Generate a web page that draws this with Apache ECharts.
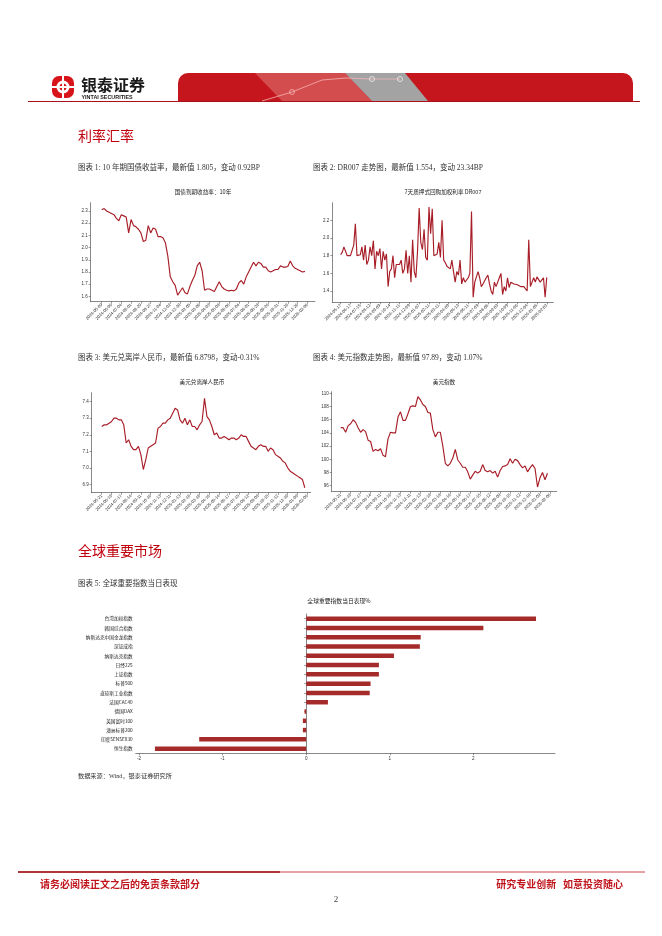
<!DOCTYPE html>
<html>
<head>
<meta charset="utf-8">
<script src="https://cdn.jsdelivr.net/npm/echarts@6/dist/echarts.min.js"></script>
<style>
html,body{margin:0;padding:0;background:#fff;}
#page{width:662px;height:936px;}
</style>
</head>
<body>
<div id="page"></div>
<script>
// ---------- Data ----------
// Chart 1: 10Y government bond yield
const labels1 = ["2024-05-09","2024-06-06","2024-07-04","2024-08-01","2024-08-29","2024-09-27","2024-11-04","2024-12-02","2024-12-30","2025-02-05","2025-03-06","2025-04-03","2025-05-08","2025-06-06","2025-07-04","2025-08-01","2025-08-29","2025-09-26","2025-10-31","2025-11-28","2025-12-26","2026-02-06"];
const yTicks1 = [1.6,1.7,1.8,1.9,2.0,2.1,2.2,2.3];
const yield10y = [2.31,2.32,2.30,2.29,2.28,2.27,2.24,2.22,2.27,2.26,
  2.25,2.12,2.23,2.18,2.17,2.15,2.12,2.05,2.06,2.18,
  2.12,2.16,2.15,2.09,2.09,2.08,2.04,1.93,1.76,1.72,
  1.69,1.61,1.64,1.67,1.63,1.62,1.68,1.73,1.77,1.85,
  1.88,1.81,1.65,1.66,1.66,1.65,1.64,1.68,1.72,1.68,
  1.66,1.65,1.645,1.65,1.645,1.66,1.71,1.73,1.70,1.76,
  1.80,1.84,1.88,1.85,1.88,1.87,1.84,1.84,1.81,1.80,
  1.81,1.82,1.82,1.85,1.84,1.84,1.845,1.89,1.85,1.83,
  1.82,1.81,1.80,1.805];

// Chart 2: DR007
const labels2 = ["2024-05-17","2024-06-17","2024-07-15","2024-08-12","2024-09-09","2024-10-14","2024-11-11","2024-12-09","2025-01-07","2025-02-11","2025-03-11","2025-04-09","2025-05-13","2025-06-11","2025-07-09","2025-08-06","2025-09-03","2025-10-09","2025-11-06","2025-12-04","2026-01-05","2026-02-03"];
const yTicks2 = [1.4,1.6,1.8,2.0,2.2];
const dr007 = [1.81,1.84,1.90,1.92,1.80,1.78,1.80,1.86,1.92,2.16,
  1.80,1.80,1.81,1.90,1.75,1.92,1.70,1.75,1.90,1.80,
  1.97,1.65,1.85,1.80,1.88,1.65,1.85,1.75,1.82,1.45,
  1.62,1.65,1.80,1.55,1.70,1.72,1.70,1.75,1.60,1.65,
  1.86,1.60,1.80,1.50,1.98,1.62,1.55,1.85,2.34,1.95,
  1.87,2.10,1.78,1.75,2.35,2.05,2.33,1.80,1.78,1.82,
  1.95,1.78,2.20,1.75,1.72,1.68,1.70,1.65,1.75,1.62,
  1.50,1.62,1.58,1.75,1.48,1.55,1.50,1.52,1.55,1.60,
  2.30,1.33,1.50,1.48,1.62,1.55,1.45,1.48,1.50,1.55,
  1.58,1.48,1.40,1.36,1.50,1.45,1.46,1.55,1.60,1.36,
  1.45,1.40,1.55,1.44,1.50,1.52,1.48,1.46,1.47,1.46,
  1.45,1.45,1.45,1.44,1.40,1.98,1.45,1.46,1.55,1.50,
  1.56,1.58,1.50,1.48,1.55,1.33,1.554];

// Chart 3: USD/CNH
const labels3 = ["2024-05-21","2024-06-19","2024-07-17","2024-08-14","2024-09-11","2024-10-16","2024-11-13","2024-12-11","2025-01-13","2025-02-18","2025-03-18","2025-04-16","2025-05-14","2025-06-17","2025-07-15","2025-08-12","2025-09-09","2025-10-15","2025-11-12","2025-12-10","2026-01-09","2026-02-06"];
const yTicks3 = [6.9,7.0,7.1,7.2,7.3,7.4];
const usdcnh = [7.25,7.26,7.26,7.27,7.28,7.30,7.30,7.29,7.29,7.26,
  7.15,7.17,7.13,7.11,7.11,7.13,7.08,6.99,7.05,7.12,
  7.13,7.14,7.15,7.24,7.25,7.27,7.27,7.29,7.30,7.33,
  7.36,7.35,7.29,7.27,7.30,7.26,7.29,7.25,7.25,7.23,
  7.26,7.28,7.42,7.31,7.29,7.25,7.20,7.21,7.18,7.18,
  7.19,7.18,7.17,7.18,7.18,7.17,7.18,7.20,7.19,7.19,
  7.16,7.13,7.12,7.11,7.13,7.14,7.13,7.13,7.10,7.12,
  7.11,7.08,7.07,7.06,7.04,7.03,7.00,6.98,6.97,6.96,
  6.95,6.94,6.93,6.8798];

// Chart 4: US dollar index
const labels4 = ["2024-05-21","2024-06-19","2024-07-17","2024-08-14","2024-09-11","2024-10-16","2024-11-13","2024-12-11","2025-01-13","2025-02-18","2025-03-18","2025-04-16","2025-05-14","2025-06-17","2025-07-15","2025-08-12","2025-09-09","2025-10-15","2025-11-12","2025-12-10","2026-01-09","2026-02-06"];
const yTicks4 = [96,98,100,102,104,106,108,110];
const usdidx = [104.8,104.8,104.1,105.1,105.4,106.0,105.6,104.8,104.1,104.5,
  104.2,102.9,102.7,101.2,101.5,101.3,101.6,100.6,100.4,103.1,
  104.1,104.0,104.0,106.4,107.2,105.9,105.9,106.9,108.0,108.1,
  108.0,109.5,109.0,108.3,108.0,107.1,107.0,104.5,103.4,104.1,
  104.1,102.0,99.4,99.0,99.4,100.2,101.5,99.9,99.4,98.8,
  98.8,98.1,97.0,97.6,98.2,97.9,98.2,99.2,98.3,98.1,
  98.3,97.9,98.2,97.3,98.3,98.9,99.0,99.2,100.1,99.4,
  100.0,99.8,99.2,98.7,99.0,98.1,98.7,99.2,98.6,95.8,
  97.2,98.0,96.9,97.89];

// Chart 5: global indices daily change %
const indexNames = ["台湾加权指数","韩国综合指数","纳斯达克中国金龙指数","深证成指","纳斯达克指数","日经225","上证指数","标普500","道琼斯工业指数","法国CAC40","德国DAX","英国富时100","澳洲标普200","印度SENSEX30","恒生指数"];
const indexChange = [2.75,2.12,1.37,1.36,1.05,0.87,0.87,0.77,0.76,0.26,-0.02,-0.04,-0.04,-1.28,-1.81];
const xTicks5 = [-2,-1,0,1,2];

// ---------- Styles / helpers ----------
const AX = '#555';
const LINE_RED = '#a81e28';
const BAR_RED = '#a52a2a';
const SANS = "'Liberation Sans','Noto Sans CJK SC',sans-serif";
const CJK = "'Noto Sans CJK SC',sans-serif";
const SERIF = "'Liberation Serif','Noto Sans CJK SC',serif";

function xAxisCfg(gridIndex, labels, step, min, max) {
  const ticks = labels.map((_, k) => k * step);
  return {
    type: 'value', gridIndex, min, max,
    axisLine: {show: true, onZero: false, lineStyle: {color: AX, width: 0.7}},
    axisTick: {show: true, length: 2, customValues: ticks, lineStyle: {color: AX, width: 0.6}},
    axisLabel: {customValues: ticks, rotate: 45, fontSize: 4.2, color: '#333', margin: 2.5, fontFamily: SANS,
      formatter: v => { const k = Math.round(v / step); return labels[k] || ''; }},
    splitLine: {show: false}
  };
}
function yAxisCfg(gridIndex, ticks, min, max, dec) {
  return {
    type: 'value', gridIndex, min, max,
    axisLine: {show: true, onZero: false, lineStyle: {color: AX, width: 0.7}},
    axisTick: {show: true, length: 2, customValues: ticks, lineStyle: {color: AX, width: 0.6}},
    axisLabel: {customValues: ticks, fontSize: 4.5, color: '#333', margin: 3, fontFamily: SANS,
      formatter: v => v.toFixed(dec)},
    splitLine: {show: false}
  };
}
function lineSeries(idx, values) {
  return {
    type: 'line', xAxisIndex: idx, yAxisIndex: idx,
    data: values.map((v, i) => [i, v]),
    showSymbol: false, symbol: 'none',
    lineStyle: {color: LINE_RED, width: 1.15},
    animation: false, silent: true
  };
}
function txt(x, y, text, size, opts) {
  opts = opts || {};
  return {
    type: 'text', x, y, silent: true,
    style: {
      text, fontSize: size, fontFamily: opts.family || CJK,
      fontWeight: opts.weight || 'normal', fill: opts.color || '#222',
      align: opts.align || 'left', verticalAlign: 'middle',
      textAlign: opts.align || 'left', textVerticalAlign: 'middle'
    }
  };
}

const chart = echarts.init(document.getElementById('page'), null, {renderer: 'canvas', width: 662, height: 936});

const grids = [
  {left: 90.7, top: 202.7, width: 224.3, height: 99},
  {left: 332.3, top: 202.7, width: 221, height: 99.6},
  {left: 91.7, top: 392.7, width: 219, height: 100},
  {left: 331.7, top: 391.7, width: 225, height: 100},
  {left: 135.7, top: 614, width: 419.3, height: 139.3}
].map(g => Object.assign({containLabel: false, outerBoundsMode: 'none', show: false}, g));

const option = {
  animation: false,
  textStyle: {fontFamily: SANS},
  grid: grids,
  xAxis: [
    xAxisCfg(0, labels1, 4, -4.5, 87.1),
    xAxisCfg(1, labels2, 6, -5.1, 130),
    xAxisCfg(2, labels3, 4, -4.1, 85.4),
    xAxisCfg(3, labels4, 4, -3.6, 86.7),
    {
      type: 'value', gridIndex: 4, min: -2.04, max: 2.977,
      axisLine: {show: true, onZero: false, lineStyle: {color: AX, width: 0.7}},
      axisTick: {show: true, length: 2, customValues: xTicks5, lineStyle: {color: AX, width: 0.6}},
      axisLabel: {customValues: xTicks5, fontSize: 4.6, color: '#333', margin: 3, fontFamily: SANS,
        formatter: v => String(Math.round(v))},
      splitLine: {show: false}
    }
  ],
  yAxis: [
    yAxisCfg(0, yTicks1, 1.556, 2.368, 1),
    yAxisCfg(1, yTicks2, 1.272, 2.40, 1),
    yAxisCfg(2, yTicks3, 6.85, 7.454, 1),
    yAxisCfg(3, yTicks4, 95.09, 110.25, 0),
    {
      type: 'category', gridIndex: 4, inverse: true, data: indexNames,
      axisLine: {show: true, lineStyle: {color: AX, width: 0.7}},
      axisTick: {show: true, length: 2, alignWithLabel: true, lineStyle: {color: AX, width: 0.6}},
      axisLabel: {fontSize: 4.7, color: '#222', margin: 3, fontFamily: CJK},
      splitLine: {show: false}
    }
  ],
  series: [
    lineSeries(0, yield10y),
    lineSeries(1, dr007),
    lineSeries(2, usdcnh),
    lineSeries(3, usdidx),
    {
      type: 'bar', xAxisIndex: 4, yAxisIndex: 4, data: indexChange,
      barWidth: 4.5, itemStyle: {color: BAR_RED}, animation: false, silent: true
    }
  ],
  graphic: [
    // header
    {type: 'line', silent: true, shape: {x1: 28, y1: 101.5, x2: 640, y2: 101.5}, style: {stroke: '#a8101a', lineWidth: 1}},
    {type: 'rect', silent: true, shape: {x: 178, y: 73, width: 455, height: 28, r: [10, 10, 0, 0]}, style: {fill: '#c4161c'}},
    {type: 'polygon', silent: true, shape: {points: [[255, 73], [345, 73], [372, 101], [282, 101]]}, style: {fill: '#d9605f', opacity: 0.75}},
    {type: 'polygon', silent: true, shape: {points: [[345, 73], [405, 73], [428, 101], [372, 101]]}, style: {fill: '#a3a3a3'}},
    {type: 'polyline', silent: true, shape: {points: [[262, 101], [292, 92], [322, 80], [346, 78], [372, 79], [400, 79]]}, style: {stroke: '#f2b5b5', lineWidth: 0.8, fill: null}},
    {type: 'circle', silent: true, shape: {cx: 292, cy: 92, r: 2.5}, style: {stroke: '#f2b5b5', lineWidth: 0.8, fill: 'none'}},
    {type: 'circle', silent: true, shape: {cx: 372, cy: 79, r: 2.5}, style: {stroke: '#eeeeee', lineWidth: 0.8, fill: 'none'}},
    {type: 'circle', silent: true, shape: {cx: 400, cy: 79, r: 2.5}, style: {stroke: '#eeeeee', lineWidth: 0.8, fill: 'none'}},
    // logo
    {type: 'rect', silent: true, shape: {x: 52, y: 76, width: 22, height: 22, r: 7}, style: {fill: '#d7141a'}},
    {type: 'circle', silent: true, shape: {cx: 63, cy: 87, r: 6.5}, style: {fill: '#fff'}},
    {type: 'circle', silent: true, shape: {cx: 63, cy: 87, r: 3.6}, style: {fill: '#d7141a'}},
    {type: 'rect', silent: true, shape: {x: 62, y: 76, width: 2, height: 22}, style: {fill: '#fff'}},
    {type: 'rect', silent: true, shape: {x: 52, y: 86, width: 22, height: 2}, style: {fill: '#fff'}},
    txt(81, 85, '银泰证券', 16, {weight: 'bold', color: '#1a1a1a'}),
    txt(81.5, 97.5, 'YINTAI SECURITIES', 5.4, {weight: 'bold', color: '#1a1a1a', family: SANS}),
    // section titles
    txt(78, 136, '利率汇率', 14, {color: '#c0000c'}),
    txt(78, 551, '全球重要市场', 14, {color: '#c0000c'}),
    // captions
    txt(78, 168, '图表 1: 10 年期国债收益率，最新值 1.805，变动 0.92BP', 7.5, {family: SERIF, color: '#333'}),
    txt(313, 168, '图表 2: DR007 走势图，最新值 1.554，变动 23.34BP', 7.5, {family: SERIF, color: '#333'}),
    txt(78, 358, '图表 3: 美元兑离岸人民币，最新值 6.8798，变动-0.31%', 7.5, {family: SERIF, color: '#333'}),
    txt(313, 358, '图表 4: 美元指数走势图，最新值 97.89，变动 1.07%', 7.5, {family: SERIF, color: '#333'}),
    txt(78, 584, '图表 5: 全球重要指数当日表现', 7.5, {family: SERIF, color: '#333'}),
    txt(78, 776, '数据来源：Wind，银泰证券研究所', 6.2, {family: SERIF, color: '#333'}),
    // chart titles
    txt(203, 192, '国债到期收益率：10年', 5.6, {align: 'center'}),
    txt(443, 192, '7天质押式回购加权利率 DR007', 5.6, {align: 'center'}),
    txt(202, 382, '美元兑离岸人民币', 5.6, {align: 'center'}),
    txt(444, 382, '美元指数', 5.6, {align: 'center'}),
    txt(339, 601, '全球重要指数当日表现%', 5.8, {align: 'center'}),
    // footer
    {type: 'line', silent: true, shape: {x1: 18, y1: 872, x2: 645, y2: 872}, style: {stroke: '#c0141c', lineWidth: 0.8}},
    {type: 'line', silent: true, shape: {x1: 18, y1: 872, x2: 280, y2: 872}, style: {stroke: '#a01018', lineWidth: 1.6}},
    txt(40, 884, '请务必阅读正文之后的免责条款部分', 10, {weight: 'bold', color: '#c0141c'}),
    txt(623, 884, '研究专业创新   如意投资随心', 10, {weight: 'bold', color: '#c0141c', align: 'right'}),
    txt(336, 900, '2', 9, {family: SERIF, color: '#444', align: 'center'})
  ]
};
chart.setOption(option);
</script>
</body>
</html>
